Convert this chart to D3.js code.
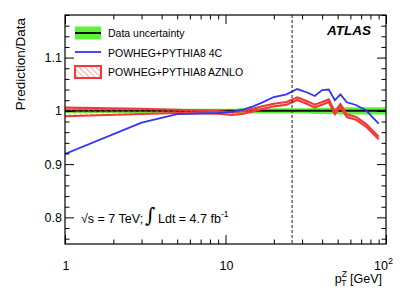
<!DOCTYPE html>
<html>
<head>
<meta charset="utf-8">
<script src="https://cdn.jsdelivr.net/npm/d3@7"></script>
<style>
  body { margin: 0; background: #fff; }
  text { font-family: "Liberation Sans", Arial, Helvetica, sans-serif; fill: #000; }
</style>
</head>
<body>
<svg id="chart" width="407" height="292"></svg>
<script>
// bin centres and edges of the Z pT measurement (GeV)
var ptCenters = [1, 3, 5, 7, 9, 11, 13, 15, 17, 20, 24, 28, 32, 36, 40, 44, 48, 52, 57, 65, 75, 90];
var binEdges = [0, 2, 4, 6, 8, 10, 12, 14, 16, 18, 22, 26, 30, 34, 38, 42, 46, 50, 54, 60, 70, 80, 100];

// data uncertainty (half width of the green band)
var dataUnc = [0.004, 0.004, 0.004, 0.004, 0.004, 0.004, 0.005, 0.005, 0.005, 0.005, 0.005, 0.005,
               0.005, 0.006, 0.006, 0.006, 0.006, 0.007, 0.007, 0.007, 0.007, 0.007];

// POWHEG+PYTHIA8 4C
var ratio4C = [0.919, 0.978, 0.994, 0.995, 0.996, 0.998, 1.003, 1.009, 1.016, 1.026, 1.031, 1.041,
               1.035, 1.028, 1.039, 1.040, 1.020, 1.031, 1.016, 1.011, 1.001, 0.976];

// POWHEG+PYTHIA8 AZNLO (centre and half width)
var ratioAZNLO = [0.998, 0.999, 0.999, 0.998, 0.997, 0.995, 0.997, 1.002, 1.006, 1.011, 1.014, 1.023,
                  1.016, 1.009, 1.014, 1.019, 0.996, 1.010, 0.991, 0.986, 0.973, 0.949];
var uncAZNLO = [0.008, 0.005, 0.003, 0.0025, 0.0025, 0.0025, 0.0025, 0.0025, 0.0025, 0.0025, 0.0025, 0.0025,
                0.0025, 0.0025, 0.0025, 0.0025, 0.0025, 0.0025, 0.0025, 0.0025, 0.0025, 0.0025];

var yMajor = [0.8, 0.9, 1, 1.1];
var xMajor = [1, 10, 100];
var xMinor = [2, 3, 4, 5, 6, 7, 8, 9, 20, 30, 40, 50, 60, 70, 80, 90];
var cutPt = 26;

var legendLabels = ["Data uncertainty", "POWHEG+PYTHIA8 4C", "POWHEG+PYTHIA8 AZNLO"];

var green = "#5cf23c";
var blue = "#3434f4";
var red = "#f43838";

var padL = 65, padR = 386, padT = 15, padB = 244;

var svg = d3.select("#chart");

var x = d3.scaleLog().domain([1, 100]).range([padL, padR]);
var y = d3.scaleLinear().domain([0.75, 1.18]).range([padB, padT]);

var yMinor = d3.range(0.76, 1.181, 0.02).filter(function(v) {
  return yMajor.every(function(m) { return Math.abs(m - v) > 1e-6; });
});

var defs = svg.append("defs");
defs.append("clipPath").attr("id", "plotClip")
  .append("rect")
    .attr("x", padL).attr("y", padT)
    .attr("width", padR - padL).attr("height", padB - padT);

var hatch = defs.append("pattern")
  .attr("id", "hatch")
  .attr("patternUnits", "userSpaceOnUse")
  .attr("width", 4).attr("height", 4)
  .attr("patternTransform", "rotate(-45)");
hatch.append("line")
  .attr("x1", 0).attr("y1", 0).attr("x2", 0).attr("y2", 4)
  .attr("stroke", "#f66").attr("stroke-width", 1.2);

var plot = svg.append("g").attr("clip-path", "url(#plotClip)");

// data uncertainty band, drawn per bin
var bandPts = [];
dataUnc.forEach(function(u, i) {
  bandPts.push({ pt: Math.max(binEdges[i], 1), u: u });
  bandPts.push({ pt: binEdges[i + 1], u: u });
});

plot.append("path")
  .datum(bandPts)
  .attr("fill", green)
  .attr("d", d3.area()
    .x(function(d) { return x(d.pt); })
    .y0(function(d) { return y(1 - d.u); })
    .y1(function(d) { return y(1 + d.u); }));

plot.append("line")
  .attr("x1", padL).attr("x2", padR)
  .attr("y1", y(1)).attr("y2", y(1))
  .attr("stroke", "#111").attr("stroke-width", 2);

// AZNLO band
var azPts = ptCenters.map(function(p, i) {
  return { pt: p, c: ratioAZNLO[i], u: uncAZNLO[i] };
});

plot.append("path")
  .datum(azPts)
  .attr("fill", "url(#hatch)")
  .attr("d", d3.area()
    .x(function(d) { return x(d.pt); })
    .y0(function(d) { return y(d.c - d.u); })
    .y1(function(d) { return y(d.c + d.u); }));

[-1, 1].forEach(function(s) {
  plot.append("path")
    .datum(azPts)
    .attr("fill", "none")
    .attr("stroke", red)
    .attr("stroke-width", 2.1)
    .attr("d", d3.line()
      .x(function(d) { return x(d.pt); })
      .y(function(d) { return y(d.c + s * d.u); }));
});

// 4C line
plot.append("path")
  .datum(ptCenters.map(function(p, i) { return { pt: p, v: ratio4C[i] }; }))
  .attr("fill", "none")
  .attr("stroke", blue)
  .attr("stroke-width", 1.8)
  .attr("d", d3.line()
    .x(function(d) { return x(d.pt); })
    .y(function(d) { return y(d.v); }));

plot.append("line")
  .attr("x1", x(cutPt)).attr("x2", x(cutPt))
  .attr("y1", padT).attr("y2", padB)
  .attr("stroke", "#222").attr("stroke-width", 1)
  .attr("stroke-dasharray", "3,2");

// axes, ticks pointing inward
function drawAxis(axis, tx, ty) {
  var g = svg.append("g")
    .attr("transform", "translate(" + tx + "," + ty + ")")
    .call(axis);
  g.select(".domain").remove();
  g.selectAll("line").attr("stroke", "#000").attr("stroke-width", 1);
  return g;
}

var fmtY = function(d) { return d3.format("~g")(d); };

var yLeft = drawAxis(d3.axisLeft(y).tickValues(yMajor).tickSize(-9).tickPadding(3).tickFormat(fmtY), padL, 0);
yLeft.selectAll("text")
  .attr("x", -3)
  .style("font-size", "12.5px")
  .style("font-family", "Liberation Sans, Arial, sans-serif");
drawAxis(d3.axisLeft(y).tickValues(yMinor).tickSize(-4.5).tickFormat(""), padL, 0);
drawAxis(d3.axisRight(y).tickValues(yMajor).tickSize(-9).tickFormat(""), padR, 0);
drawAxis(d3.axisRight(y).tickValues(yMinor).tickSize(-4.5).tickFormat(""), padR, 0);

drawAxis(d3.axisBottom(x).tickValues(xMajor).tickSize(-9).tickFormat(""), 0, padB);
drawAxis(d3.axisBottom(x).tickValues(xMinor).tickSize(-4.5).tickFormat(""), 0, padB);
drawAxis(d3.axisTop(x).tickValues(xMajor).tickSize(-9).tickFormat(""), 0, padT);
drawAxis(d3.axisTop(x).tickValues(xMinor).tickSize(-4.5).tickFormat(""), 0, padT);

// x labels: 1, 10, 10^2
var xl = svg.append("g").style("font-size", "12.5px");
xl.append("text").attr("x", x(1) + 1).attr("y", 270).attr("text-anchor", "middle").text("1");
xl.append("text").attr("x", x(10) + 1).attr("y", 270).attr("text-anchor", "middle").text("10");
var hundred = xl.append("text").attr("x", x(100) - 12).attr("y", 270);
hundred.append("tspan").text("10");
hundred.append("tspan").attr("dy", -6).style("font-size", "9px").text("2");

svg.append("rect")
  .attr("x", padL).attr("y", padT)
  .attr("width", padR - padL).attr("height", padB - padT)
  .attr("fill", "none").attr("stroke", "#000").attr("stroke-width", 1.2);

// axis titles
var xt = svg.append("text")
  .attr("x", padR - 4).attr("y", 283)
  .attr("text-anchor", "end")
  .style("font-size", "12.5px");
xt.append("tspan").text("p");
xt.append("tspan").attr("dy", -6).style("font-size", "8.5px").text("Z");
xt.append("tspan").attr("dx", -5.5).attr("dy", 9).style("font-size", "8.5px").text("T");
xt.append("tspan").attr("dy", -3).text(" [GeV]");

svg.append("text")
  .attr("transform", "translate(25,18) rotate(-90)")
  .attr("text-anchor", "end")
  .style("font-size", "13.5px")
  .text("Prediction/Data");

// legend
var lx = 75, lw = 26;
svg.append("rect").attr("x", lx).attr("y", 26.5).attr("width", lw).attr("height", 13).attr("fill", green);
svg.append("line").attr("x1", lx).attr("x2", lx + lw).attr("y1", 33).attr("y2", 33)
  .attr("stroke", "#111").attr("stroke-width", 2);
svg.append("line").attr("x1", lx).attr("x2", lx + lw).attr("y1", 52).attr("y2", 52)
  .attr("stroke", blue).attr("stroke-width", 1.8);
svg.append("rect").attr("x", lx).attr("y", 66).attr("width", lw).attr("height", 12)
  .attr("fill", "url(#hatch)").attr("stroke", red).attr("stroke-width", 2);

svg.selectAll(".legtext")
  .data(legendLabels)
  .enter()
  .append("text")
    .attr("class", "legtext")
    .attr("x", 108)
    .attr("y", function(d, i) { return 37 + i * 19.5; })
    .style("font-size", "10.5px")
    .text(function(d) { return d; });

svg.append("text")
  .attr("x", 371).attr("y", 35)
  .attr("text-anchor", "end")
  .style("font-size", "13.5px")
  .style("font-weight", "bold")
  .style("font-style", "italic")
  .text("ATLAS");

// energy / luminosity label
var lumi = svg.append("g").style("font-size", "12.5px");
lumi.append("text").attr("x", 81).attr("y", 223).text("\u221As = 7 TeV;");
lumi.append("text").attr("x", 145).attr("y", 222)
  .style("font-size", "20px").style("font-family", "DejaVu Serif, serif").text("\u222B");
var ldt = lumi.append("text").attr("x", 158).attr("y", 223);
ldt.append("tspan").text("Ldt = 4.7 fb");
ldt.append("tspan").attr("dy", -6).style("font-size", "8.5px").text("-1");
</script>
</body>
</html>
